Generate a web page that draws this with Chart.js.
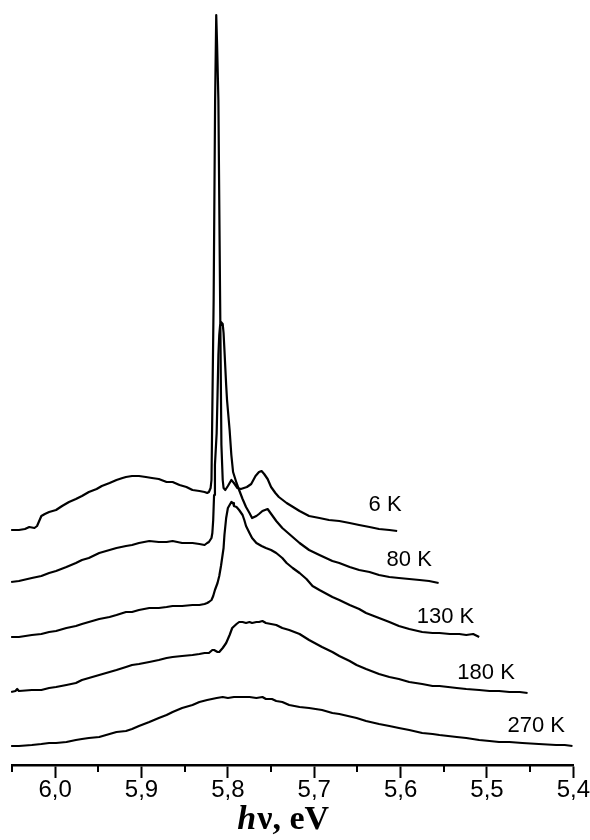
<!DOCTYPE html>
<html>
<head>
<meta charset="utf-8">
<script src="https://cdn.jsdelivr.net/npm/chart.js@4/dist/chart.umd.min.js"></script>
<style>
  html, body { margin: 0; padding: 0; background: #fff; }
  #wrap { width: 590px; height: 840px; position: relative; }
</style>
</head>
<body>
<div id="wrap"><canvas id="chart"></canvas></div>
<script>
// Photoluminescence spectra at several temperatures, stacked vertically.
// Each spectrum: [photon energy (eV), intensity incl. vertical offset (arb. units)]
const spectrum6K = [
  [6.051,23.5],[6.042,23.5],[6.035,23.6],[6.030,23.8],[6.024,23.7],[6.021,23.9],[6.016,24.9],[6.012,25.1],
  [6.007,25.3],[5.999,25.5],[5.992,25.9],[5.984,26.3],[5.976,26.6],[5.969,26.9],[5.961,27.3],[5.952,27.6],
  [5.946,27.9],[5.937,28.2],[5.929,28.5],[5.922,28.7],[5.918,28.8],[5.911,28.9],[5.903,28.9],[5.895,28.8],
  [5.888,28.7],[5.880,28.6],[5.871,28.3],[5.864,28.3],[5.856,28.0],[5.848,27.8],[5.841,27.5],[5.833,27.4],
  [5.827,27.3],[5.824,27.2],[5.822,27.3],[5.820,27.7],[5.819,28.5],[5.8165,46.5],[5.8148,66.5],[5.8135,75.0],
  [5.8125,72.0],[5.811,66.5],[5.809,46.5],[5.8075,32.0],[5.806,28.5],[5.805,27.7],[5.803,27.5],[5.800,27.9],
  [5.796,28.5],[5.793,28.2],[5.789,27.7],[5.785,27.6],[5.778,27.8],[5.773,28.1],[5.768,28.9],[5.764,29.3],
  [5.761,29.4],[5.758,29.1],[5.754,28.6],[5.750,27.8],[5.745,27.2],[5.741,26.8],[5.732,26.2],[5.717,25.4],
  [5.706,24.9],[5.694,24.7],[5.683,24.5],[5.671,24.4],[5.659,24.2],[5.648,24.0],[5.636,23.8],[5.625,23.6],
  [5.613,23.5],[5.604,23.4]
];
const spectrum80K = [
  [6.051,18.3],[6.042,18.4],[6.027,18.7],[6.016,18.9],[6.007,19.2],[5.999,19.4],[5.987,19.8],[5.976,20.2],
  [5.969,20.5],[5.961,20.7],[5.949,21.2],[5.937,21.5],[5.929,21.7],[5.918,21.9],[5.911,22.0],[5.903,22.2],
  [5.891,22.4],[5.880,22.3],[5.871,22.3],[5.864,22.4],[5.853,22.2],[5.841,22.2],[5.833,22.1],[5.827,22.0],
  [5.824,22.2],[5.822,22.3],[5.819,22.7],[5.818,23.2],[5.817,24.5],[5.816,27.0],[5.815,30.0],[5.813,33.2],
  [5.812,37.0],[5.811,41.0],[5.810,43.0],[5.809,44.0],[5.808,44.3],[5.806,44.1],[5.805,43.2],[5.804,41.5],
  [5.802,38.0],[5.801,36.5],[5.798,33.5],[5.796,31.0],[5.794,29.3],[5.790,28.2],[5.787,27.5],[5.783,26.6],
  [5.779,25.8],[5.775,25.2],[5.772,24.7],[5.767,24.9],[5.764,25.1],[5.760,25.4],[5.754,25.6],[5.749,25.0],
  [5.744,24.4],[5.737,23.7],[5.729,23.1],[5.717,22.2],[5.706,21.5],[5.694,21.0],[5.679,20.4],[5.671,20.2],
  [5.659,19.8],[5.648,19.5],[5.636,19.3],[5.625,19.0],[5.613,18.8],[5.602,18.7],[5.590,18.6],[5.578,18.5],
  [5.567,18.4],[5.556,18.2]
];
const spectrum130K = [
  [6.051,12.8],[6.042,12.8],[6.027,13.0],[6.016,13.1],[6.007,13.3],[5.999,13.4],[5.987,13.7],[5.976,13.9],
  [5.969,14.1],[5.961,14.3],[5.949,14.6],[5.937,14.8],[5.929,15.0],[5.918,15.3],[5.911,15.3],[5.903,15.5],
  [5.891,15.7],[5.880,15.7],[5.871,15.8],[5.864,15.9],[5.853,15.9],[5.841,16.0],[5.833,16.0],[5.827,16.1],
  [5.824,16.2],[5.822,16.3],[5.819,16.5],[5.817,16.9],[5.815,17.5],[5.812,18.2],[5.810,18.9],[5.808,19.9],
  [5.805,21.7],[5.804,23.0],[5.802,24.7],[5.800,25.7],[5.798,26.0],[5.796,26.3],[5.794,26.2],[5.793,25.9],
  [5.790,25.8],[5.787,25.5],[5.783,25.0],[5.781,24.5],[5.779,23.9],[5.775,23.2],[5.772,22.7],[5.767,22.2],
  [5.761,21.9],[5.756,21.7],[5.750,21.5],[5.744,21.2],[5.737,20.7],[5.732,20.2],[5.725,19.7],[5.717,19.2],
  [5.709,18.6],[5.702,17.9],[5.694,17.5],[5.679,16.8],[5.671,16.5],[5.659,16.0],[5.648,15.6],[5.640,15.2],
  [5.625,14.7],[5.613,14.3],[5.602,13.9],[5.590,13.6],[5.575,13.3],[5.563,13.2],[5.555,13.2],[5.543,13.1],
  [5.532,13.1],[5.524,13.0],[5.516,13.1],[5.509,12.8]
];
const spectrum180K = [
  [6.051,7.3],[6.046,7.4],[6.044,7.6],[6.042,7.4],[6.027,7.5],[6.016,7.5],[6.007,7.7],[5.999,7.8],
  [5.987,8.0],[5.976,8.2],[5.969,8.5],[5.961,8.7],[5.949,9.0],[5.937,9.3],[5.929,9.5],[5.918,9.8],
  [5.911,10.0],[5.903,10.1],[5.891,10.3],[5.880,10.5],[5.871,10.7],[5.864,10.8],[5.853,10.9],[5.841,11.0],
  [5.833,11.1],[5.827,11.2],[5.822,11.2],[5.818,11.5],[5.816,11.5],[5.812,11.3],[5.810,11.3],[5.806,11.7],
  [5.802,12.2],[5.798,13.0],[5.795,13.7],[5.790,14.1],[5.787,14.3],[5.783,14.3],[5.779,14.2],[5.775,14.3],
  [5.772,14.2],[5.767,14.3],[5.764,14.3],[5.760,14.4],[5.756,14.2],[5.750,14.1],[5.744,14.0],[5.737,13.7],
  [5.729,13.5],[5.717,13.1],[5.706,12.5],[5.691,11.8],[5.679,11.3],[5.671,10.9],[5.659,10.4],[5.651,10.0],
  [5.640,9.6],[5.625,9.1],[5.613,8.8],[5.602,8.6],[5.590,8.3],[5.575,8.1],[5.563,7.9],[5.555,7.9],
  [5.535,7.7],[5.524,7.6],[5.509,7.5],[5.497,7.4],[5.486,7.4],[5.474,7.3],[5.462,7.3],[5.453,7.2]
];
const spectrum270K = [
  [6.051,1.9],[6.042,1.9],[6.027,2.0],[6.016,2.1],[6.007,2.2],[5.999,2.2],[5.987,2.3],[5.976,2.5],
  [5.969,2.6],[5.961,2.7],[5.949,2.8],[5.937,3.1],[5.929,3.3],[5.918,3.4],[5.911,3.6],[5.903,3.9],
  [5.891,4.3],[5.880,4.7],[5.871,5.0],[5.864,5.3],[5.853,5.7],[5.841,6.0],[5.833,6.3],[5.824,6.5],
  [5.813,6.7],[5.806,6.8],[5.800,6.7],[5.793,6.8],[5.783,6.8],[5.775,6.8],[5.767,6.7],[5.760,6.8],
  [5.756,6.6],[5.749,6.6],[5.744,6.4],[5.737,6.3],[5.729,6.0],[5.717,5.8],[5.706,5.7],[5.691,5.5],
  [5.679,5.2],[5.671,5.1],[5.651,4.7],[5.640,4.4],[5.625,4.1],[5.613,3.9],[5.602,3.7],[5.590,3.5],
  [5.575,3.2],[5.563,3.1],[5.555,3.0],[5.535,2.8],[5.524,2.7],[5.509,2.5],[5.497,2.4],[5.486,2.3],
  [5.474,2.3],[5.459,2.2],[5.440,2.1],[5.420,2.0],[5.410,2.0],[5.401,1.9]
];

// Temperature labels and where they sit (energy, level)
const temperatureLabels = ['6 K', '80 K', '130 K', '180 K', '270 K'];
const labelEnergy = [5.618, 5.590, 5.548, 5.501, 5.443];
const labelLevel = [26.0, 20.5, 14.8, 9.2, 3.9];

// Energy axis ticks: majors every 0.1 eV, minors halfway
const energyTicks = [6.05, 6.0, 5.95, 5.9, 5.85, 5.8, 5.75, 5.7, 5.65, 5.6, 5.55, 5.5, 5.45, 5.4];

const spectra = [spectrum6K, spectrum80K, spectrum130K, spectrum180K, spectrum270K];

const isMajor = v => Math.round(v * 100) % 10 === 0;
const fmt = v => v.toFixed(1).replace('.', ',');

const SANS = 'Arial, "Liberation Sans", Helvetica, sans-serif';
const SERIF = '"Times New Roman", "Liberation Serif", Times, serif';

const decorations = {
  id: 'decorations',
  afterDraw(chart) {
    const { ctx, scales: { x, y } } = chart;
    ctx.save();
    // minor tick marks
    ctx.strokeStyle = '#000';
    ctx.lineWidth = 2;
    energyTicks.filter(v => !isMajor(v)).forEach(v => {
      const px = Math.round(x.getPixelForValue(v));
      ctx.beginPath();
      ctx.moveTo(px, x.top);
      ctx.lineTo(px, x.top + 7);
      ctx.stroke();
    });
    // temperature labels
    ctx.fillStyle = '#000';
    ctx.font = '22px ' + SANS;
    ctx.textAlign = 'center';
    ctx.textBaseline = 'middle';
    temperatureLabels.forEach((t, i) => {
      ctx.fillText(t, x.getPixelForValue(labelEnergy[i]), y.getPixelForValue(labelLevel[i]));
    });
    // axis title: italic h, then "ν, eV"
    const partA = 'h', partB = 'ν, eV';
    const fontA = 'italic bold 34px ' + SERIF;
    const fontB = 'bold 34px ' + SERIF;
    ctx.font = fontA; const wA = ctx.measureText(partA).width;
    ctx.font = fontB; const wB = ctx.measureText(partB).width;
    const cx = (x.left + x.right) / 2 - 10;
    const baseY = chart.height - 11;
    let sx = cx - (wA + wB) / 2;
    ctx.textAlign = 'left';
    ctx.textBaseline = 'alphabetic';
    ctx.font = fontA; ctx.fillText(partA, sx, baseY);
    ctx.font = fontB; ctx.fillText(partB, sx + wA + 1, baseY);
    ctx.restore();
  }
};

new Chart(document.getElementById('chart'), {
  type: 'line',
  data: {
    datasets: spectra.map((s, i) => ({
      label: temperatureLabels[i],
      data: s.map(([e, v]) => ({ x: e, y: v })),
      borderColor: '#000',
      borderWidth: 2.2,
      pointRadius: 0,
      tension: 0,
      fill: false,
      clip: false,
      borderJoinStyle: 'round'
    }))
  },
  options: {
    responsive: true,
    maintainAspectRatio: false,
    animation: false,
    devicePixelRatio: 1,
    layout: { padding: { left: 12, right: 16, top: 15, bottom: 38 } },
    plugins: { legend: { display: false }, tooltip: { enabled: false } },
    scales: {
      x: {
        type: 'linear',
        reverse: true,
        min: 5.4,
        max: 6.05,
        afterBuildTicks: scale => { scale.ticks = energyTicks.map(v => ({ value: v })); },
        ticks: {
          autoSkip: false,
          maxRotation: 0,
          padding: 0,
          color: '#000',
          font: { family: SANS, size: 24, lineHeight: 1 },
          callback: v => isMajor(v) ? fmt(v) : ''
        },
        grid: {
          drawOnChartArea: false,
          drawTicks: true,
          tickLength: 13,
          tickWidth: 2,
          tickColor: c => (c.tick && isMajor(c.tick.value)) ? '#000' : 'rgba(0,0,0,0)'
        },
        border: { display: true, color: '#000', width: 2.5 }
      },
      y: {
        display: false,
        min: 0,
        max: 75
      }
    }
  },
  plugins: [decorations]
});
</script>
</body>
</html>
